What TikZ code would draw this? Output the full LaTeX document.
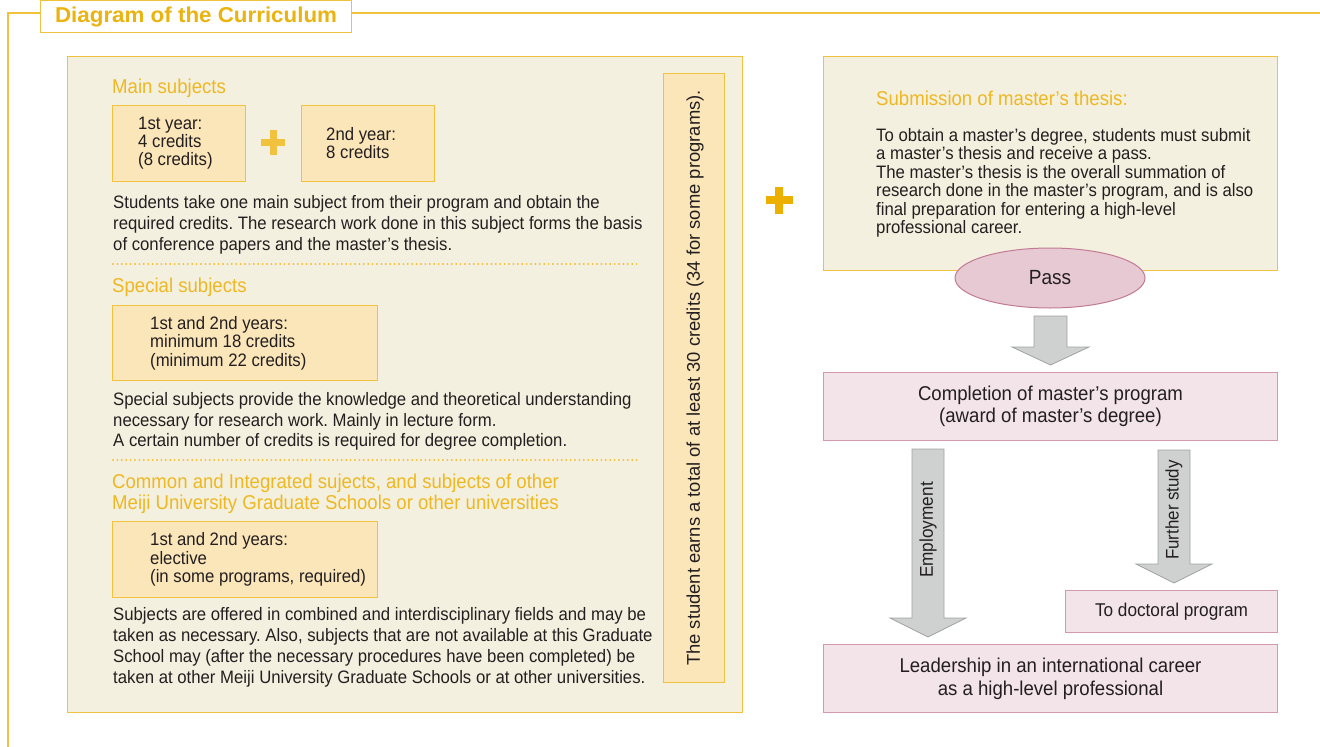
\documentclass[tikz,border=0pt]{standalone}
\usepackage{fontspec}
\setmainfont{Liberation Sans}[FakeStretch=0.93]
\newfontfamily\widesans{Liberation Sans}
\newfontfamily\titlefont{Liberation Sans}[FakeStretch=1.04]
\usetikzlibrary{shapes.geometric}
\definecolor{goldline}{HTML}{F0C23E}
\definecolor{goldtext}{HTML}{EBB30F}
\definecolor{headtext}{HTML}{EEB823}
\definecolor{cream}{HTML}{F4F0DF}
\definecolor{boxfill}{HTML}{FBE6BA}
\definecolor{pinkfill}{HTML}{F3E4EA}
\definecolor{pinkline}{HTML}{D29AAC}
\definecolor{passfill}{HTML}{E6C9D2}
\definecolor{passline}{HTML}{C27B95}
\definecolor{grayfill}{HTML}{CFD1D0}
\definecolor{grayline}{HTML}{A0A2A1}
\definecolor{ink}{HTML}{231F20}
\definecolor{plusgold}{HTML}{EBB000}
\frenchspacing
\begin{document}
\begin{tikzpicture}[x=1pt,y=-1pt,
  ybox/.style={draw=goldline,fill=boxfill,line width=1pt,inner sep=0pt,anchor=north west},
  pbox/.style={draw=pinkline,fill=pinkfill,line width=1pt,inner sep=0pt,anchor=north west,align=center,text=ink},
  txt/.style={inner sep=0pt,align=left,text=ink,font=\fontsize{18}{21}\selectfont},
  head/.style={inner sep=0pt,align=left,text=headtext,font=\fontsize{20}{21.5}\selectfont,anchor=north west},
  dots/.style={draw=goldline,line width=2.2pt,line cap=round,dash pattern=on 0pt off 4.4pt},
  garrow/.style={draw=grayline,fill=grayfill,line width=0.8pt}
]
\useasboundingbox (0,0) rectangle (1320,747);
% frame and title
\draw[goldline,line width=1.2pt] (8,747) -- (8,13) -- (40,13);
\draw[goldline,line width=1.2pt] (351,13) -- (1320,13);
\node[draw=goldline,line width=1.2pt,fill=white,anchor=north west,minimum width=311pt,minimum height=32pt,inner sep=0pt,
  font=\titlefont\bfseries\fontsize{21.5}{22}\selectfont,text=goldtext] (title) at (40,0) {Diagram of the Curriculum};
% left big box
\node[draw=goldline,fill=cream,line width=1.2pt,anchor=north west,minimum width=675pt,minimum height=656pt,inner sep=0pt] (left) at (67,56) {};
% main subjects
\node[head] (mainh) at (112,79) {Main subjects};
\node[ybox,minimum width=133pt,minimum height=76pt] (y1) at (112,105) {};
\node[txt,anchor=west,font=\fontsize{18}{18}\selectfont] (y1t) at ([xshift=26pt]y1.west) {1st year:\\4 credits\\(8 credits)};
\node[ybox,minimum width=133pt,minimum height=76pt] (y2) at (301,105) {};
\node[txt,anchor=west,font=\fontsize{18}{18}\selectfont] (y2t) at ([xshift=25pt]y2.west) {2nd year:\\8 credits};
\fill[goldline] (261,139) rectangle (285,146);
\fill[goldline] (269.5,130) rectangle (276.5,155);
\node[txt,anchor=north west] (p1) at (113,195) {Students take one main subject from their program and obtain the\\required credits. The research work done in this subject forms the basis\\of conference papers and the master’s thesis.};
\draw[dots] (113,264) -- (640,264);
% special subjects
\node[head] (spech) at (112,278) {Special subjects};
\node[ybox,minimum width=265pt,minimum height=75pt] (y3) at (112,305) {};
\node[txt,anchor=west,font=\fontsize{18}{18.5}\selectfont] (y3t) at ([xshift=38pt]y3.west) {1st and 2nd years:\\minimum 18 credits\\(minimum 22 credits)};
\node[txt,anchor=north west,font=\fontsize{18}{20.5}\selectfont] (p2) at (113,392.5) {Special subjects provide the knowledge and theoretical understanding\\necessary for research work. Mainly in lecture form.\\A certain number of credits is required for degree completion.};
\draw[dots] (113,460) -- (640,460);
% common
\node[head] (commh) at (112,473.5) {Common and Integrated sujects, and subjects of other\\Meiji University Graduate Schools or other universities};
\node[ybox,minimum width=265pt,minimum height=76pt] (y4) at (112,521) {};
\node[txt,anchor=west,font=\fontsize{18}{18.5}\selectfont] (y4t) at ([xshift=38pt]y4.west) {1st and 2nd years:\\elective\\(in some programs, required)};
\node[txt,anchor=north west] (p3) at (113,607) {Subjects are offered in combined and interdisciplinary fields and may be\\taken as necessary. Also, subjects that are not available at this Graduate\\School may (after the necessary procedures have been completed) be\\taken at other Meiji University Graduate Schools or at other universities.};
% vertical box
\node[ybox,minimum width=61pt,minimum height=609pt] (vbox) at (663,73) {};
\node[inner sep=0pt,rotate=90,text=ink,font=\widesans\fontsize{18.4}{19}\selectfont] (vtext) at ([xshift=1pt]vbox.center) {The student earns a total of at least 30 credits (34 for some programs).};
% big plus
\fill[plusgold] (765.5,196) rectangle (792.5,204);
\fill[plusgold] (775,186.5) rectangle (783,213.5);
% right top box
\node[draw=goldline,fill=cream,line width=1.2pt,anchor=north west,minimum width=454pt,minimum height=214pt,inner sep=0pt] (thesis) at (823,56) {};
\node[head] (thesh) at (876,91) {Submission of master’s thesis:};
\node[txt,anchor=north west,font=\fontsize{18}{18.5}\selectfont] (p4) at (876,128) {To obtain a master’s degree, students must submit\\a master’s thesis and receive a pass.\\The master’s thesis is the overall summation of\\research done in the master’s program, and is also\\final preparation for entering a high-level\\professional career.};
% pass
\node[ellipse,draw=passline,fill=passfill,line width=1pt,minimum width=190pt,minimum height=60pt,inner sep=0pt,text=ink,font=\fontsize{20.5}{22}\selectfont] (pass) at (1050,278) {Pass};
% arrow 1
\draw[garrow] (1034,316) -- (1067,316) -- (1067,347) -- (1089,347) -- (1050.5,365) -- (1012,347) -- (1034,347) -- cycle;
% completion
\node[pbox,minimum width=454pt,minimum height=68pt,font=\fontsize{20}{22}\selectfont] (compl) at (823,372) {Completion of master’s program\\(award of master’s degree)};
% employment arrow
\draw[garrow] (912,449) -- (944,449) -- (944,618) -- (966,618) -- (928,637) -- (890,618) -- (912,618) -- cycle;
\node[inner sep=0pt,rotate=90,text=ink,font=\fontsize{18.5}{20}\selectfont] (empl) at (928,530) {Employment};
% further study arrow
\draw[garrow] (1158,450) -- (1190,450) -- (1190,564) -- (1212,564) -- (1174,583) -- (1136,564) -- (1158,564) -- cycle;
\node[inner sep=0pt,rotate=90,text=ink,font=\fontsize{18.2}{20}\selectfont] (furth) at (1174,510) {Further study};
% doctoral
\node[pbox,minimum width=212pt,minimum height=42pt,font=\fontsize{18.5}{20}\selectfont] (doct) at (1065,590) {To doctoral program};
% leadership
\node[pbox,minimum width=454pt,minimum height=68pt,font=\fontsize{20}{23}\selectfont] (lead) at (823,644) {Leadership in an international career\\as a high-level professional};
\end{tikzpicture}
\end{document}
